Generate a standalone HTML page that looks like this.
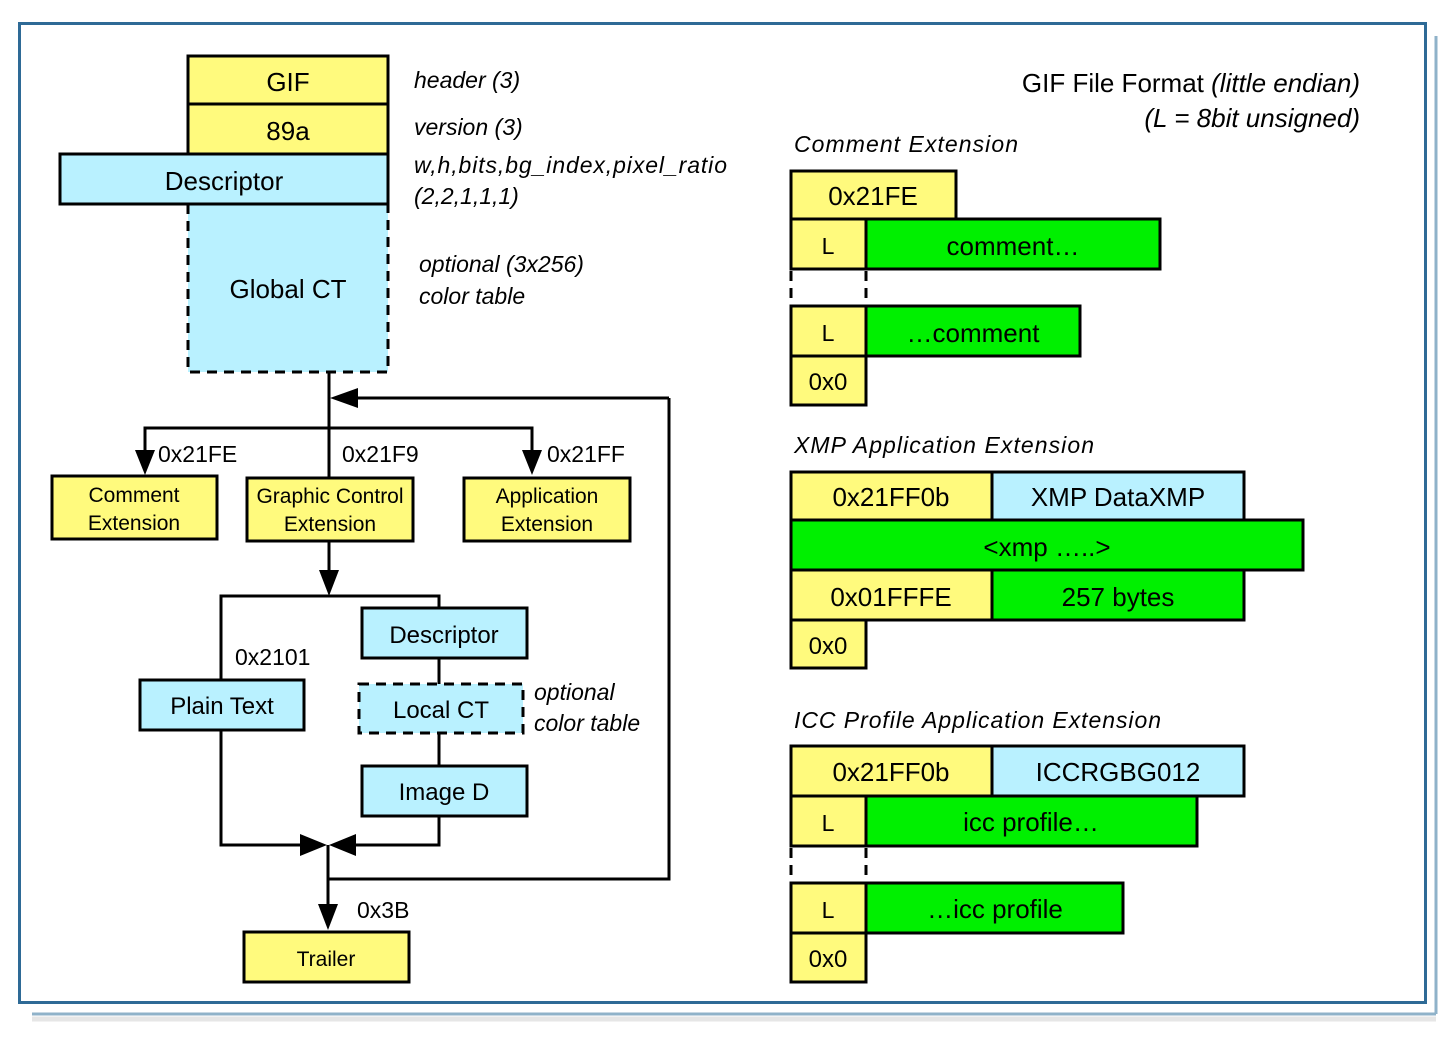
<!DOCTYPE html>
<html><head><meta charset="utf-8"><style>
html,body{margin:0;padding:0;background:#fff;}
svg{display:block;font-family:"Liberation Sans",Arial,sans-serif;}
.y{fill:#fffa7d;stroke:#000;stroke-width:3}
.c{fill:#b9f1ff;stroke:#000;stroke-width:3}
.g{fill:#00f000;stroke:#000;stroke-width:3}
.l{fill:none;stroke:#000;stroke-width:3}
.d{fill:none;stroke:#000;stroke-width:3;stroke-dasharray:10,7}
text{fill:#000}
.m{text-anchor:middle}
.i{font-style:italic}
</style></head><body>
<svg width="1456" height="1055" viewBox="0 0 1456 1055" xmlns="http://www.w3.org/2000/svg">
<line x1="1436" y1="36" x2="1436" y2="1014" stroke="#8fb2c9" stroke-width="3"/>
<line x1="32" y1="1014" x2="1436" y2="1014" stroke="#8fb2c9" stroke-width="3"/>
<line x1="32" y1="1019" x2="1436" y2="1019" stroke="#e6e6e6" stroke-width="5"/>
<rect x="19.5" y="23.5" width="1406" height="979" fill="#fff" stroke="#2e6a96" stroke-width="3"/>

<rect class="y" x="188" y="56" width="200" height="48"/>
<text class="m" x="288" y="91" font-size="26">GIF</text>
<rect class="y" x="188" y="104" width="200" height="50"/>
<text class="m" x="288" y="140" font-size="26">89a</text>
<rect x="188" y="204" width="200" height="168" fill="#b9f1ff"/>
<path class="d" d="M188,204 V372 H388 V204"/>
<text class="m" x="288" y="298" font-size="26">Global CT</text>
<rect class="c" x="60" y="154" width="328" height="50"/>
<text class="m" x="224" y="190" font-size="26">Descriptor</text>

<g class="i" font-size="23">
<text x="414" y="88">header (3)</text>
<text x="414" y="135">version (3)</text>
<text x="414" y="173" textLength="313">w,h,bits,bg_index,pixel_ratio</text>
<text x="414" y="204">(2,2,1,1,1)</text>
<text x="419" y="272">optional (3x256)</text>
<text x="419" y="304">color table</text>
<text x="534" y="700">optional</text>
<text x="534" y="731">color table</text>
</g>

<path class="l" d="M329,372 V478"/>
<path class="l" d="M669,398 H345 M669,398 V879 H328"/>
<polygon points="330,398 358,388 358,408"/>
<path class="l" d="M145,458 V428 H532 V458"/>
<polygon points="145,475 135,450 155,450"/>
<polygon points="532,475 522,450 542,450"/>
<g font-size="23">
<text x="158" y="462">0x21FE</text>
<text x="342" y="462">0x21F9</text>
<text x="547" y="462">0x21FF</text>
<text x="235" y="665">0x2101</text>
<text x="357" y="918">0x3B</text>
</g>

<rect class="y" x="52" y="476" width="165" height="63"/>
<text class="m" x="134" y="502" font-size="21">Comment</text>
<text class="m" x="134" y="530" font-size="21">Extension</text>
<rect class="y" x="247" y="478" width="166" height="63"/>
<text class="m" x="330" y="503" font-size="21">Graphic Control</text>
<text class="m" x="330" y="531" font-size="21">Extension</text>
<rect class="y" x="464" y="478" width="166" height="63"/>
<text class="m" x="547" y="503" font-size="21">Application</text>
<text class="m" x="547" y="531" font-size="21">Extension</text>

<path class="l" d="M329,541 V575"/>
<polygon points="329,596 319,570 339,570"/>
<path class="l" d="M221,680 V596 H439 V608"/>
<path class="l" d="M439,658 V684 M439,733 V766"/>
<path class="l" d="M221,730 V845 H305 M439,816 V845 H352"/>
<polygon points="327,845 300,834 300,856"/>
<polygon points="329,845 356,834 356,856"/>
<path class="l" d="M328,845 V908"/>
<polygon points="328,930 318,904 338,904"/>

<rect class="c" x="140" y="680" width="164" height="50"/>
<text class="m" x="222" y="714" font-size="24">Plain Text</text>
<rect class="c" x="362" y="608" width="165" height="50"/>
<text class="m" x="444" y="643" font-size="24">Descriptor</text>
<rect x="359" y="684" width="164" height="49" fill="#b9f1ff"/>
<rect class="d" x="359" y="684" width="164" height="49"/>
<text class="m" x="441" y="718" font-size="24">Local CT</text>
<rect class="c" x="362" y="766" width="165" height="50"/>
<text class="m" x="444" y="800" font-size="24">Image D</text>
<rect class="y" x="244" y="932" width="165" height="50"/>
<text class="m" x="326" y="966" font-size="21">Trailer</text>

<text x="1360" y="92" font-size="26" text-anchor="end">GIF File Format <tspan font-style="italic">(little endian)</tspan></text>
<text x="1360" y="127" font-size="26" text-anchor="end" font-style="italic">(L = 8bit unsigned)</text>
<g class="i" font-size="23">
<text x="794" y="152" textLength="224">Comment Extension</text>
<text x="794" y="453" textLength="300">XMP Application Extension</text>
<text x="794" y="728" textLength="367">ICC Profile Application Extension</text>
</g>

<g font-size="26">
<rect class="y" x="791" y="171" width="165" height="48"/>
<text class="m" x="873" y="205">0x21FE</text>
<rect class="y" x="791" y="219" width="75" height="50"/>
<text class="m" x="828" y="254" font-size="23">L</text>
<rect class="g" x="866" y="219" width="294" height="50"/>
<text class="m" x="1013" y="255">comment…</text>
<path class="d" d="M791,271 V306 M866,271 V306" stroke-dasharray="14,12"/>
<rect class="y" x="791" y="306" width="75" height="50"/>
<text class="m" x="828" y="341" font-size="23">L</text>
<rect class="g" x="866" y="306" width="214" height="50"/>
<text class="m" x="973" y="342">…comment</text>
<rect class="y" x="791" y="356" width="75" height="49"/>
<text class="m" x="828" y="390" font-size="24">0x0</text>

<rect class="y" x="791" y="472" width="201" height="48"/>
<text class="m" x="891" y="506">0x21FF0b</text>
<rect class="c" x="992" y="472" width="252" height="48"/>
<text class="m" x="1118" y="506">XMP DataXMP</text>
<rect class="g" x="791" y="520" width="512" height="50"/>
<text class="m" x="1047" y="556">&lt;xmp …..&gt;</text>
<rect class="y" x="791" y="570" width="201" height="50"/>
<text class="m" x="891" y="606">0x01FFFE</text>
<rect class="g" x="992" y="570" width="252" height="50"/>
<text class="m" x="1118" y="606">257 bytes</text>
<rect class="y" x="791" y="620" width="75" height="48"/>
<text class="m" x="828" y="654" font-size="24">0x0</text>

<rect class="y" x="791" y="746" width="201" height="50"/>
<text class="m" x="891" y="781">0x21FF0b</text>
<rect class="c" x="992" y="746" width="252" height="50"/>
<text class="m" x="1118" y="781">ICCRGBG012</text>
<rect class="y" x="791" y="796" width="75" height="50"/>
<text class="m" x="828" y="831" font-size="23">L</text>
<rect class="g" x="866" y="796" width="331" height="50"/>
<text class="m" x="1031" y="831">icc profile…</text>
<path class="d" d="M791,848 V883 M866,848 V883" stroke-dasharray="14,12"/>
<rect class="y" x="791" y="883" width="75" height="50"/>
<text class="m" x="828" y="918" font-size="23">L</text>
<rect class="g" x="866" y="883" width="257" height="50"/>
<text class="m" x="995" y="918">…icc profile</text>
<rect class="y" x="791" y="933" width="75" height="49"/>
<text class="m" x="828" y="967" font-size="24">0x0</text>
</g>
</svg>
</body></html>
